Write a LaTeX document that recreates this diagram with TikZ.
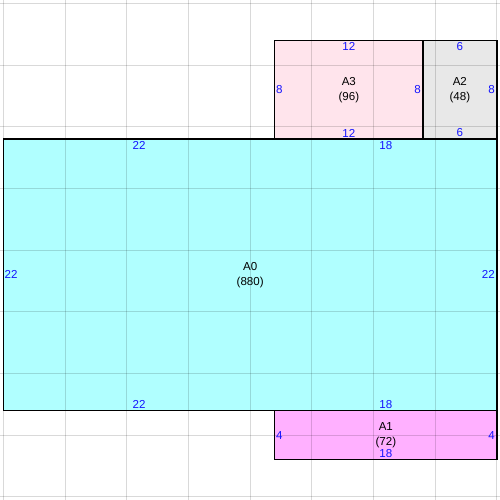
\documentclass[tikz,border=0pt]{standalone}
\usepackage{fontspec}
\setmainfont{Liberation Sans}
\definecolor{cA0}{RGB}{176,255,255}
\definecolor{cA1}{RGB}{255,176,255}
\definecolor{cA2}{RGB}{232,232,232}
\definecolor{cA3}{RGB}{255,228,236}
\definecolor{dimblue}{RGB}{20,20,255}
\tikzset{
  region/.style={draw=black, line width=0.9pt},
  gridline/.style={draw=black, draw opacity=0.15, line width=0.8pt},
  dimlabel/.style={text=dimblue, inner sep=1.2pt, font=\fontsize{8}{9.5}\selectfont},
  arealabel/.style={align=center, inner sep=0pt, font=\fontsize{8}{10.4}\selectfont},
}
\begin{document}
\begin{tikzpicture}[x=0.3cm,y=0.3cm]
\useasboundingbox (-0.284,-7.26) rectangle (40.256,33.28);
\fill[white] (-0.284,-7.26) rectangle (40.256,33.28);
% fills
\fill[cA0] (0,0) rectangle (40,22);
\fill[cA3] (22,22) rectangle (34,30);
\fill[cA2] (34,22) rectangle (40,30);
\fill[cA1] (22,-4) rectangle (40,0);
% grid
\foreach \x in {0,5,...,40} \draw[gridline] (\x,-7.26) -- (\x,33.28);
\foreach \y in {-7,-2,...,33} \draw[gridline] (-0.284,\y) -- (40.256,\y);
% outlines
\draw[region] (0,0) rectangle (40,22);
\draw[region] (22,22) rectangle (34,30);
\draw[region] (34,22) rectangle (40,30);
\draw[region] (22,-4) rectangle (40,0);
% A0 labels
\node[arealabel] (a0) at (20,11) {A0\\(880)};
\node[dimlabel, anchor=north] (a0t1) at (11,22) {22};
\node[dimlabel, anchor=north] (a0t2) at (31,22) {18};
\node[dimlabel, anchor=south] (a0b1) at (11,0) {22};
\node[dimlabel, anchor=south] (a0b2) at (31,0) {18};
\node[dimlabel, anchor=west, inner xsep=0.6pt] (a0l) at (0,11) {22};
\node[dimlabel, anchor=east] (a0r) at (40,11) {22};
% A3 labels
\node[arealabel] (a3) at (28,26) {A3\\(96)};
\node[dimlabel, anchor=north] (a3t) at (28,30) {12};
\node[dimlabel, anchor=south] (a3b) at (28,22) {12};
\node[dimlabel, anchor=west, inner xsep=0.6pt] (a3l) at (22,26) {8};
\node[dimlabel, anchor=east] (a3r) at (34,26) {8};
% A2 labels
\node[arealabel] (a2) at (37,26) {A2\\(48)};
\node[dimlabel, anchor=north] (a2t) at (37,30) {6};
\node[dimlabel, anchor=south] (a2b) at (37,22) {6};
\node[dimlabel, anchor=east] (a2r) at (40,26) {8};
% A1 labels
\node[arealabel] (a1) at (31,-2) {A1\\(72)};
\node[dimlabel, anchor=south] (a1b) at (31,-4) {18};
\node[dimlabel, anchor=west, inner xsep=0.6pt] (a1l) at (22,-2) {4};
\node[dimlabel, anchor=east] (a1r) at (40,-2) {4};
\end{tikzpicture}
\end{document}
